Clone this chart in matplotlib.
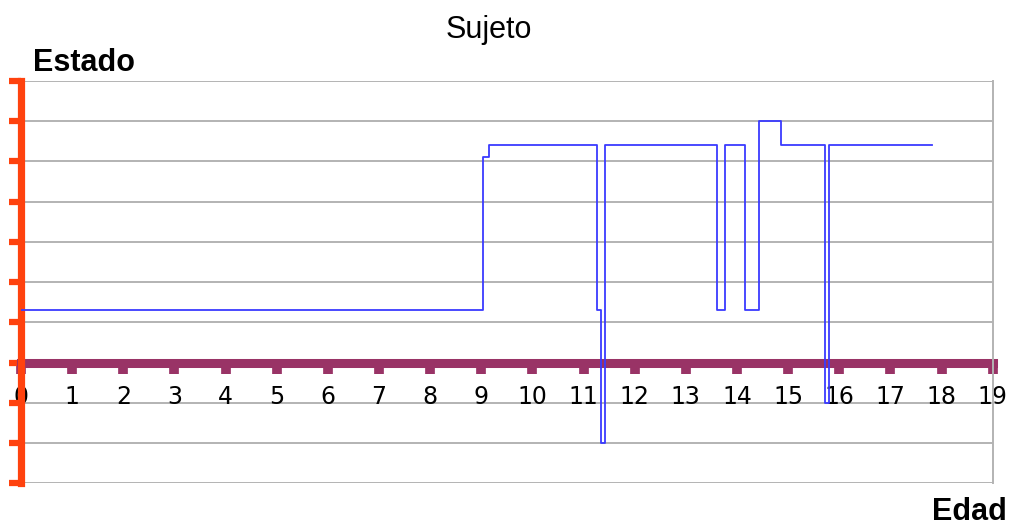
import matplotlib
matplotlib.use("Agg")
import matplotlib.pyplot as plt

plt.rcParams['font.family'] = ['Liberation Sans', 'DejaVu Sans']

# Data (step series)
edad = [0, 9.03, 9.15, 11.27, 11.34, 11.41, 13.61, 13.76, 14.15, 14.44, 14.87, 15.72, 15.80, 17.82]
estado = [1.3, 5.1, 5.4, 1.3, -2, 5.4, 1.3, 5.4, 1.3, 6, 5.4, -1, 5.4, 5.4]
x_ticks = list(range(0, 20))
y_grid = list(range(-3, 8))

W, H = 1012, 525
fig = plt.figure(figsize=(W / 100, H / 100), dpi=100)
ax = fig.add_axes([21 / W, (H - 483.3) / H, (992.7 - 21) / W, (483.3 - 81) / H])
ax.set_xlim(0, 19)
ax.set_ylim(-3, 7)

for yv in y_grid:
    ax.axhline(yv, color='#b3b3b3', lw=1.4, zorder=0)

ax.plot(edad, estado, drawstyle='steps-post', color='#3a3aff', lw=1.3, zorder=3)

ax.spines['top'].set_visible(False)
ax.spines['right'].set_color('#b3b3b3')
ax.spines['right'].set_linewidth(1.4)

ax.spines['left'].set_color('#ff420e')
ax.spines['left'].set_linewidth(5.2)
ax.spines['left'].set_capstyle('projecting')
ax.spines['left'].set_zorder(2.6)

ax.spines['bottom'].set_position(('data', 0))
ax.spines['bottom'].set_color('#993366')
ax.spines['bottom'].set_linewidth(6.5)
ax.spines['bottom'].set_capstyle('projecting')
ax.spines['bottom'].set_zorder(2.4)

ax.set_yticks(y_grid)
ax.set_yticklabels([])
ax.tick_params(axis='y', direction='out', length=8.5, width=4.5, color='#ff420e')

ax.set_xticks(x_ticks)
ax.set_xticklabels([str(v) for v in x_ticks], fontsize=17, family='DejaVu Sans')
ax.tick_params(axis='x', direction='out', length=8, width=7, color='#993366', pad=8, labelcolor='black')
for lab in ax.get_xticklabels():
    lab.set_zorder(5)

fig.text(489 / W, 1 - 30 / H, 'Sujeto', ha='center', va='center', fontsize=22)
fig.text(33 / W, 1 - 63 / H, 'Estado', ha='left', va='center', fontsize=22, fontweight='bold')
fig.text(932 / W, 1 - 512 / H, 'Edad', ha='left', va='center', fontsize=22, fontweight='bold')

fig.savefig('out.png', dpi=100)
